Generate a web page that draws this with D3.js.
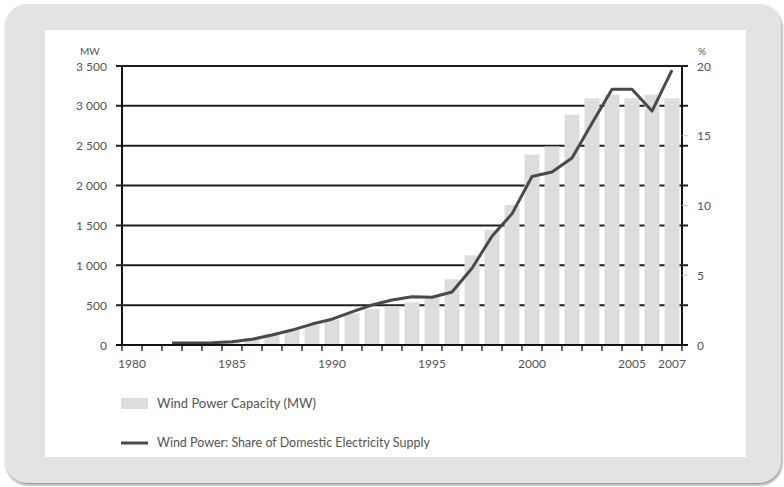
<!DOCTYPE html>
<html>
<head>
<meta charset="utf-8">
<script src="https://cdn.jsdelivr.net/npm/d3@7"></script>
<style>
  body { margin: 0; background: #ffffff; }
  svg { display: block; font-family: Lato, "Open Sans", sans-serif; }
</style>
</head>
<body>
<svg></svg>
<script>
// chart data
const years = d3.range(1980, 2008);
const capacity = [3, 7, 12, 20, 26, 55, 90, 140, 190, 250, 320, 395, 450, 485,
                  535, 600, 825, 1125, 1445, 1755, 2390, 2490, 2890, 3095, 3140,
                  3095, 3140, 3095];   // MW
const shareYears = d3.range(1982, 2008);
const share = [0.15, 0.15, 0.17, 0.24, 0.41, 0.72, 1.07, 1.5, 1.85, 2.37, 2.87, 3.23,
               3.46, 3.42, 3.8, 5.5, 7.8, 9.4, 12.08, 12.4, 13.4, 15.9, 18.33,
               18.33, 16.77, 19.7];   // %
const mwTicks = [0, 500, 1000, 1500, 2000, 2500, 3000, 3500];
const pctTicks = [0, 5, 10, 15, 20];
const yearLabels = [1980, 1985, 1990, 1995, 2000, 2005, 2007];

const width = 784, height = 487;

const svg = d3.select('svg')
              .attr('width', width)
              .attr('height', height);

// panel background with a soft shadow
const defs = svg.append('defs');
defs.append('filter').attr('id', 'shadow')
    .attr('x', -0.05).attr('y', -0.05).attr('width', 1.1).attr('height', 1.1)
  .append('feDropShadow')
    .attr('dx', 1).attr('dy', 2).attr('stdDeviation', 1.5)
    .attr('flood-color', '#777').attr('flood-opacity', 0.8);

svg.append('rect')
   .attr('x', 5).attr('y', 4).attr('width', 776).attr('height', 479)
   .attr('rx', 22)
   .attr('fill', '#e2e3e5')
   .attr('filter', 'url(#shadow)');

svg.append('rect')
   .attr('x', 45).attr('y', 30).attr('width', 701).attr('height', 427)
   .attr('fill', '#ffffff');

// scales
const x = d3.scaleBand()
            .domain(years)
            .range([122, 682])
            .paddingInner(0.25)
            .paddingOuter(0.125);

const y = d3.scaleLinear().domain([0, 3500]).range([345, 66]);
const yPct = d3.scaleLinear().domain([0, 20]).range([345, 66]);

const step = x.step();
const xc = d => x(d) + x.bandwidth() / 2;
const fmt = d3.formatLocale({ decimal: '.', thousands: ' ', grouping: [3], currency: ['', ''] }).format(',');

// gridlines (bars sit on top of them)
svg.append('g')
   .selectAll('line')
   .data(mwTicks.slice(1))
   .join('line')
   .attr('x1', 116).attr('x2', 688)
   .attr('y1', d => y(d)).attr('y2', d => y(d))
   .attr('stroke', '#1e1e1e')
   .attr('stroke-width', 2);

// capacity bars
svg.append('g')
   .selectAll('rect')
   .data(years)
   .join('rect')
   .attr('x', d => x(d))
   .attr('width', x.bandwidth())
   .attr('y', (d, i) => y(capacity[i]))
   .attr('height', (d, i) => y(0) - y(capacity[i]))
   .attr('fill', '#dcddde');

// share line
const line = d3.line()
               .x(d => xc(d[0]))
               .y(d => yPct(d[1]));

svg.append('path')
   .datum(shareYears.map((yr, i) => [yr, share[i]]))
   .attr('d', line)
   .attr('fill', 'none')
   .attr('stroke', '#4a4a4a')
   .attr('stroke-width', 3)
   .attr('stroke-linejoin', 'round');

// axes
const axisColor = '#111';
svg.append('line')   // left
   .attr('x1', 122).attr('x2', 122).attr('y1', 66).attr('y2', 345)
   .attr('stroke', axisColor).attr('stroke-width', 2);
svg.append('line')   // right
   .attr('x1', 682).attr('x2', 682).attr('y1', 66).attr('y2', 345)
   .attr('stroke', axisColor).attr('stroke-width', 2);
svg.append('line')   // bottom
   .attr('x1', 116).attr('x2', 688).attr('y1', 345).attr('y2', 345)
   .attr('stroke', axisColor).attr('stroke-width', 2);

// year ticks at band edges
const edges = years.map(d => x(d) - (step - x.bandwidth()) / 2).concat([682]);
svg.append('g')
   .selectAll('line')
   .data(edges)
   .join('line')
   .attr('x1', d => d).attr('x2', d => d)
   .attr('y1', 345).attr('y2', 351)
   .attr('stroke', axisColor)
   .attr('stroke-width', 1.3);

// faint % ticks on the right axis
svg.append('g')
   .selectAll('line')
   .data(pctTicks.slice(1, -1))
   .join('line')
   .attr('x1', 682).attr('x2', 688)
   .attr('y1', d => yPct(d)).attr('y2', d => yPct(d))
   .attr('stroke', '#c4c4c4')
   .attr('stroke-width', 1);

// labels
const labelColor = '#555';
svg.append('g')
   .selectAll('text')
   .data(mwTicks)
   .join('text')
   .attr('x', 107)
   .attr('y', d => y(d) + 4.5)
   .attr('text-anchor', 'end')
   .attr('font-size', 12)
   .attr('fill', labelColor)
   .text(d => fmt(d));

svg.append('g')
   .selectAll('text')
   .data(pctTicks)
   .join('text')
   .attr('x', 697)
   .attr('y', d => yPct(d) + 4.5)
   .attr('font-size', 12)
   .attr('fill', labelColor)
   .text(d => d);

svg.append('g')
   .selectAll('text')
   .data(yearLabels)
   .join('text')
   .attr('x', d => xc(d))
   .attr('y', 368)
   .attr('text-anchor', 'middle')
   .attr('font-size', 12)
   .attr('fill', labelColor)
   .text(d => d);

svg.append('text')
   .attr('x', 80).attr('y', 55)
   .attr('font-size', 10)
   .attr('fill', labelColor)
   .text('MW');

svg.append('text')
   .attr('x', 698).attr('y', 55)
   .attr('font-size', 10)
   .attr('fill', labelColor)
   .text('%');

// legend
const legend = svg.append('g');
legend.append('rect')
      .attr('x', 121).attr('y', 398).attr('width', 27).attr('height', 11)
      .attr('fill', '#dcddde');
legend.append('text')
      .attr('x', 157).attr('y', 408)
      .attr('font-size', 13)
      .attr('fill', labelColor)
      .text('Wind Power Capacity (MW)');
legend.append('line')
      .attr('x1', 121).attr('x2', 148).attr('y1', 443).attr('y2', 443)
      .attr('stroke', '#4a4a4a').attr('stroke-width', 3);
legend.append('text')
      .attr('x', 157).attr('y', 447)
      .attr('font-size', 12.5)
      .attr('fill', labelColor)
      .text('Wind Power: Share of Domestic Electricity Supply');
</script>
</body>
</html>
